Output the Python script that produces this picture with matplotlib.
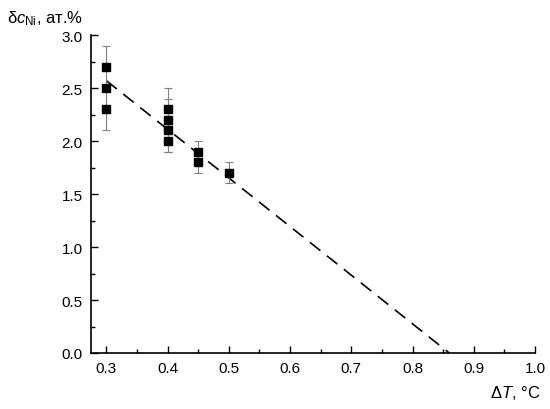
import matplotlib
matplotlib.use("Agg")
import matplotlib.pyplot as plt
from matplotlib.ticker import MultipleLocator

plt.rcParams['font.family'] = ['Liberation Sans', 'DejaVu Sans']
plt.rcParams['mathtext.fontset'] = 'custom'
plt.rcParams['mathtext.rm'] = 'Liberation Sans'
plt.rcParams['mathtext.it'] = 'Liberation Sans:italic'

# measured points
dT = [0.3, 0.3, 0.3, 0.4, 0.4, 0.4, 0.4, 0.45, 0.45, 0.5]
dc = [2.7, 2.5, 2.3, 2.3, 2.2, 2.1, 2.0, 1.9, 1.8, 1.7]
err = [0.2, 0.0, 0.2, 0.2, 0.2, 0.2, 0.1, 0.1, 0.1, 0.1]

# linear fit
fit_x = [0.3, 0.86]
fit_y = [2.57, 0.0]

fig = plt.figure(figsize=(5.5, 4.1), dpi=100)
ax = fig.add_axes([0.1655, 0.1366, 0.8072, 0.7754])

ax.errorbar(dT, dc, yerr=err, fmt='none', ecolor='#808080', elinewidth=0.8,
            capsize=3, capthick=0.8, zorder=2)
ax.plot(dT, dc, 's', color='black', markersize=5.3, zorder=3)
ax.plot(fit_x, fit_y, color='black', lw=1.2, dashes=(8, 5), zorder=1)

ax.set_xlim(0.275, 1.0)
ax.set_ylim(0, 3.0)
ax.xaxis.set_major_locator(MultipleLocator(0.1))
ax.xaxis.set_minor_locator(MultipleLocator(0.05))
ax.yaxis.set_major_locator(MultipleLocator(0.5))
ax.yaxis.set_minor_locator(MultipleLocator(0.25))
ax.xaxis.set_major_formatter(plt.FuncFormatter(lambda v, p: f'{v:.1f}'))
ax.yaxis.set_major_formatter(plt.FuncFormatter(lambda v, p: f'{v:.1f}'))

for s in ['top', 'right']:
    ax.spines[s].set_visible(False)
for s in ['left', 'bottom']:
    ax.spines[s].set_linewidth(1.2)
ax.tick_params(which='major', direction='in', length=5, width=1.0, labelsize=11, pad=6)
ax.tick_params(which='minor', direction='in', length=3, width=1.0)

fig.text(0.013, 0.955, 'δ' + r'$c_{\mathrm{Ni}}$, ат.%', fontsize=12, ha='left', va='center')
fig.text(0.983, 0.042, 'Δ' + r'$T$, °C', fontsize=12, ha='right', va='center')

fig.savefig('out.png', dpi=100)
